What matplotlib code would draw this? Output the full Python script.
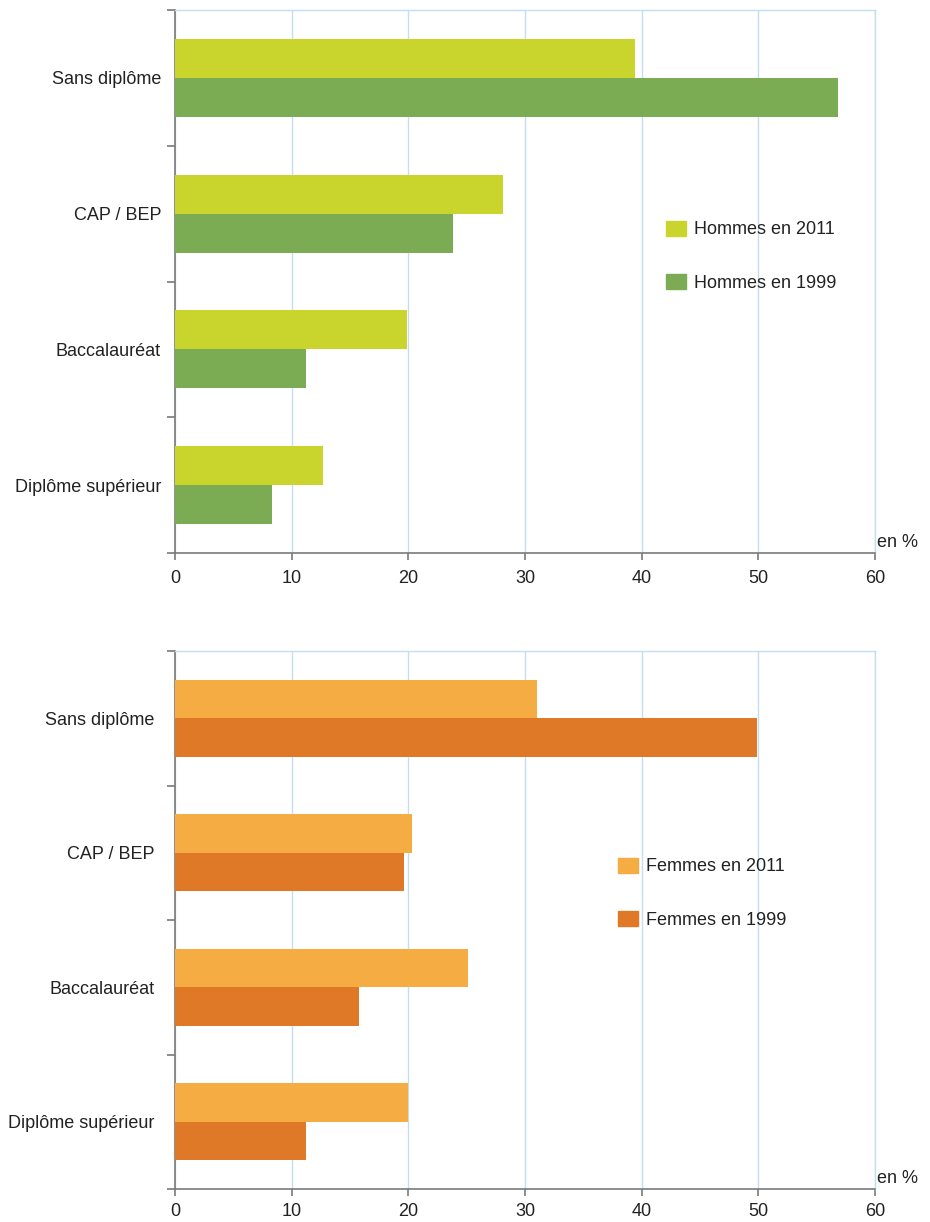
import matplotlib
matplotlib.use('Agg')
import matplotlib.pyplot as plt
import numpy as np
from matplotlib.patches import Patch

plt.rcParams['font.family'] = ['Liberation Sans', 'DejaVu Sans']

categories = ['Sans diplôme', 'CAP / BEP', 'Baccalauréat', 'Diplôme supérieur']
xticks = [0, 10, 20, 30, 40, 50, 60]

hommes_2011 = [39.4, 28.1, 19.9, 12.7]
hommes_1999 = [56.8, 23.8, 11.2, 8.3]
femmes_2011 = [31.0, 20.3, 25.1, 20.0]
femmes_1999 = [49.9, 19.6, 15.8, 11.2]

GRID = '#c4def0'
AXIS = '#7a7a7a'
TXT = '#222222'


def panel(ax, v2011, v1999, lab2011, lab1999, c2011, c1999, labpad, xpad, leg_xy):
    centers = np.arange(len(categories))[::-1] + 0.5
    h = 0.288
    ax.barh(centers + h / 2, v2011, height=h, color=c2011, label=lab2011, zorder=3)
    ax.barh(centers - h / 2, v1999, height=h, color=c1999, label=lab1999, zorder=3)

    ax.set_xlim(0, 60)
    ax.set_ylim(0, len(categories))
    ax.set_xticks(xticks)
    ax.set_xticklabels([str(t) for t in xticks], fontsize=13, color=TXT)
    ax.xaxis.grid(True, color=GRID, linewidth=1, zorder=0)
    ax.set_axisbelow(True)

    # category boundaries as outward ticks, labels at band centres
    ax.set_yticks(np.arange(len(categories) + 1))
    ax.set_yticklabels([])
    ax.set_yticks(centers, minor=True)
    ax.set_yticklabels(categories, minor=True, fontsize=13, color=TXT)
    ax.tick_params(axis='y', which='major', length=6, color=AXIS, width=1.2)
    ax.tick_params(axis='y', which='minor', length=0, pad=labpad)
    ax.tick_params(axis='x', length=5, color=AXIS, width=1.2, pad=xpad)

    for s in ['top', 'right']:
        ax.spines[s].set_color(GRID)
        ax.spines[s].set_linewidth(1)
    for s in ['left', 'bottom']:
        ax.spines[s].set_color(AXIS)
        ax.spines[s].set_linewidth(1.2)

    ax.text(1.003, 0.004, 'en %', transform=ax.transAxes, fontsize=13,
            color=TXT, ha='left', va='bottom')

    handles = [Patch(color=c2011, label=lab2011), Patch(color=c1999, label=lab1999)]
    ax.legend(handles=handles, loc='upper left', bbox_to_anchor=leg_xy,
              frameon=False, fontsize=13, borderpad=0, borderaxespad=0,
              handlelength=1.1, handleheight=0.9, handletextpad=0.45,
              labelspacing=1.98, labelcolor=TXT)


fig = plt.figure(figsize=(9.3, 12.22), dpi=100)
ax1 = fig.add_axes([175 / 930, 669 / 1222, 700 / 930, 543 / 1222])
ax2 = fig.add_axes([175 / 930, 33 / 1222, 700 / 930, 538 / 1222])

panel(ax1, hommes_2011, hommes_1999, 'Hommes en 2011', 'Hommes en 1999',
      '#c9d42c', '#7bac53', 10, 7, (0.701, 0.612))
panel(ax2, femmes_2011, femmes_1999, 'Femmes en 2011', 'Femmes en 1999',
      '#f4ac43', '#e07927', 14.5, 5, (0.633, 0.616))

fig.savefig('out.png', dpi=100)
